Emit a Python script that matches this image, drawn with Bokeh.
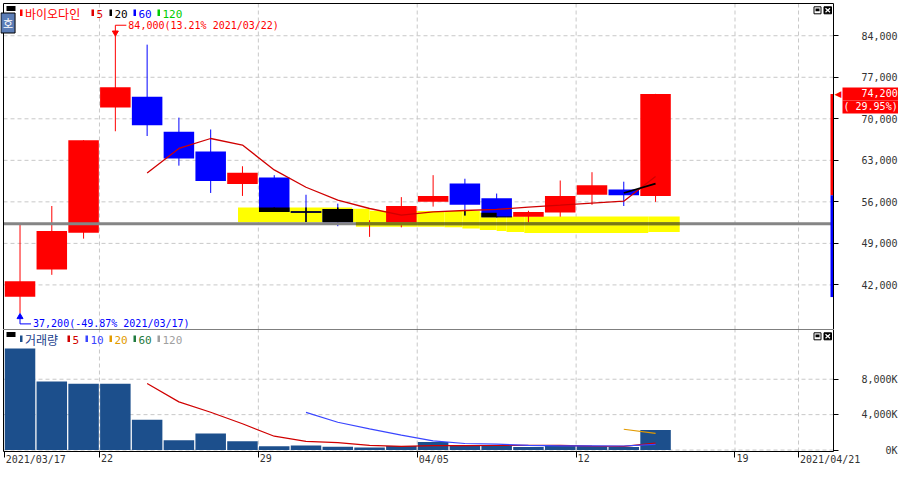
import numpy as np
from bokeh.plotting import figure
from bokeh.layouts import column
from bokeh.models import Range1d, FixedTicker, Label
from bokeh.core.properties import value
from bokeh.embed import file_html
from bokeh.resources import INLINE

# ---------------- data ----------------
stock_name = "바이오다인"
dates = ["2021/03/17", "2021/03/18", "2021/03/19", "2021/03/22", "2021/03/23", "2021/03/24",
         "2021/03/25", "2021/03/26", "2021/03/29", "2021/03/30", "2021/03/31", "2021/04/01",
         "2021/04/02", "2021/04/05", "2021/04/06", "2021/04/07", "2021/04/08", "2021/04/09",
         "2021/04/12", "2021/04/13", "2021/04/14"]
opens = [40000, 44600, 50800, 71900, 73700, 67800, 64500, 59000, 60100, 54300, 54800,
         52200, 52400, 56000, 59100, 56600, 53500, 54200, 57200, 58100, 57000]
highs = [52300, 55300, 66400, 84000, 82500, 70200, 68200, 62000, 60500, 57200, 55700,
         52900, 56800, 60500, 59900, 57400, 54500, 59600, 61000, 59400, 74200]
lows = [37200, 43700, 49800, 67900, 67100, 62100, 57500, 57000, 54300, 52600, 51900,
        50100, 51700, 55200, 53700, 53400, 52500, 53500, 55500, 55300, 56000]
closes = [42600, 51100, 66400, 75300, 68900, 63300, 59500, 60900, 54300, 54300, 52500,
          52400, 55300, 57000, 55500, 53400, 54300, 57000, 58800, 57100, 74200]
volumes_k = [11470, 7730, 7480, 7480, 3410, 1100, 1870, 990, 440, 500, 385,
             275, 460, 900, 460, 460, 350, 460, 460, 350, 2270]

# yellow band (step segments, x in trading-day slots, prices)
band_left = [6.86, 10.45, 10.57, 11.0, 12.5, 13.36, 13.92, 14.47, 15.0, 15.31, 15.87, 19.77]
band_right = [10.45, 10.57, 11.0, 12.5, 13.36, 13.92, 14.47, 15.0, 15.31, 15.87, 19.77, 20.76]
band_top = [55050, 54830, 54830, 54510, 54460, 54460, 54460, 54180, 53530, 53530, 53530, 53530]
band_bot = [52550, 52550, 51790, 51790, 51790, 51730, 51520, 51250, 51080, 50920, 50760, 50920]

gray_level = 52300          # horizontal gray line
prev_close = 57100          # previous day close
upper_limit = 74200
lower_limit = 39950

price_ticks = [42000, 49000, 56000, 63000, 70000, 77000, 84000]
price_tick_labels = ["42,000", "49,000", "56,000", "63,000", "70,000", "77,000", "84,000"]
vol_ticks = [0, 4000, 8000]
vol_tick_labels = ["0K", "4,000K", "8,000K"]
x_tick_slots = [0, 3, 8, 13, 18, 23, 25]
x_tick_labels = ["2021/03/17", "22", "29", "04/05", "12", "19", "2021/04/21"]

price_ma_periods = [5, 20, 60, 120]
price_ma_colors = ["#d00000", "#000000", "#0000ff", "#00cc00"]
vol_ma_periods = [5, 10, 20, 60, 120]
vol_ma_colors = ["#d00000", "#3a46ff", "#e39b00", "#1f7a3f", "#a0a0a0"]

# ---------------- layout constants ----------------
W = 898
ML, MT = 3, 3                 # visible box offset inside the canvas
FW = 830                      # visible box width
FH_P, FH_V, H_AX = 326, 122, 16
X0, X1 = -0.52, 25.6          # visible box, x (trading-day slots)
PY0, PY1 = 34485, 89435       # visible box, price
VY0, VY1 = -165, 13618        # visible box, volume (K)


def dx(px):
    return px * (X1 - X0) / FW


def dyp(px):
    return px * (PY1 - PY0) / FH_P


def dyv(px):
    return px * (VY1 - VY0) / FH_V


XS, XE = X0 - dx(ML), X1 + dx(W - ML - FW)

MONO = "DejaVu Sans Mono"
KR = "Noto Sans CJK KR"
RED, BLUE = "#ff0000", "#0000ff"
GRID = "#c8c8c8"
TXT = "#333333"

xr = Range1d(XS, XE)
n = len(closes)
idx = np.arange(n)
tick_x = [s - 0.5 for s in x_tick_slots]


def moving_average(vals, k):
    out = []
    for i in range(len(vals)):
        out.append(np.nan if i < k - 1 else float(np.mean(vals[i - k + 1:i + 1])))
    return np.array(out)


def base_fig(h, ylo, yhi, y0, y1, ticks, labels, xloc=None):
    f = figure(width=W, height=h, x_range=xr, y_range=Range1d(ylo, yhi),
               output_backend="svg", toolbar_location=None,
               x_axis_location=xloc, y_axis_location="right",
               min_border_left=0, min_border_right=0, min_border_top=0,
               min_border_bottom=0, background_fill_color="white",
               border_fill_color="white", outline_line_color=None)
    f.grid.visible = False
    ax = f.yaxis[0]
    ax.fixed_location = X1
    ax.ticker = FixedTicker(ticks=ticks)
    ax.major_label_overrides = dict(zip(ticks, labels))
    ax.minor_tick_line_color = None
    ax.major_tick_in = 0
    ax.major_tick_out = 5
    ax.major_tick_line_color = "black"
    ax.axis_line_color = None
    ax.major_label_standoff = 23
    ax.major_label_text_font = MONO
    ax.major_label_text_font_size = "10px"
    ax.major_label_text_color = TXT
    # dashed grid, limited to the visible box
    f.segment(x0=[X0] * len(ticks), x1=[X1] * len(ticks), y0=ticks, y1=ticks,
              line_color=GRID, line_dash="4 3", line_width=1)
    gx = tick_x[1:]
    f.segment(x0=gx, x1=gx, y0=[y0] * len(gx), y1=[y1] * len(gx),
              line_color=GRID, line_dash="4 3", line_width=1)
    return f


def box(f, y0, y1):
    f.quad(left=[X0], right=[X1], top=[y1], bottom=[y0], fill_color=None,
           line_color="black", line_width=1)


# ======================= price panel =======================
p = base_fig(MT + FH_P, PY0, PY1 + dyp(MT), PY0, PY1, price_ticks, price_tick_labels)

# yellow band
p.quad(left=band_left, right=band_right, top=band_top, bottom=band_bot,
       fill_color="#ffff00", line_color=None)

up = [c > o for o, c in zip(opens, closes)]
ccol = [RED if u else BLUE for u in up]
BW = 0.96

p.segment(x0=idx, y0=highs, x1=idx, y1=lows, line_color=ccol, line_width=1)
body_i = [i for i in range(n) if opens[i] != closes[i]]
p.vbar(x=body_i, width=BW,
       top=[max(opens[i], closes[i]) for i in body_i],
       bottom=[min(opens[i], closes[i]) for i in body_i],
       fill_color=[ccol[i] for i in body_i], line_color=None)
doji_i = [i for i in range(n) if opens[i] == closes[i]]
p.segment(x0=[i - BW / 2 for i in doji_i], x1=[i + BW / 2 for i in doji_i],
          y0=[closes[i] for i in doji_i], y1=[closes[i] for i in doji_i],
          line_color=[ccol[i] for i in doji_i], line_width=1.5)

# blue parts lying inside the yellow band turn black (band is multiplied)
bq = dict(left=[], right=[], top=[], bottom=[])
bs = dict(x0=[], x1=[], y0=[], y1=[])
for i in range(n):
    if up[i]:
        continue
    lo_b, hi_b = min(opens[i], closes[i]), max(opens[i], closes[i])
    for l, r, t, b in zip(band_left, band_right, band_top, band_bot):
        ol, orr = max(i - BW / 2, l), min(i + BW / 2, r)
        if orr <= ol:
            continue
        if hi_b > lo_b:
            tt, bb = min(hi_b, t), max(lo_b, b)
            if tt > bb:
                bq["left"].append(ol); bq["right"].append(orr)
                bq["top"].append(tt); bq["bottom"].append(bb)
        elif b <= lo_b <= t:
            bs["x0"].append(ol); bs["x1"].append(orr)
            bs["y0"].append(lo_b); bs["y1"].append(lo_b)
        if l <= i < r:
            tt, bb = min(highs[i], t), max(lows[i], b)
            if tt > bb:
                bs["x0"].append(i); bs["x1"].append(i)
                bs["y0"].append(tt); bs["y1"].append(bb)
p.quad(fill_color="black", line_color=None, **bq)
p.segment(line_color="black", line_width=1.5, **bs)

closes_arr = np.array(closes, dtype=float)
for k, col in zip(price_ma_periods, price_ma_colors):
    ma = moving_average(closes_arr, k)
    ok = ~np.isnan(ma)
    if ok.sum() >= 2:
        p.line(idx[ok], ma[ok], line_color=col, line_width=1.3 if k == 5 else 1.8)

# gray horizontal line, olive where it crosses the band
p.segment(x0=[X0], x1=[X1], y0=[gray_level], y1=[gray_level],
          line_color="#858585", line_width=3)
ol_x0 = [l for l, t, b in zip(band_left, band_top, band_bot) if b < gray_level < t]
ol_x1 = [r for r, t, b in zip(band_right, band_top, band_bot) if b < gray_level < t]
p.segment(x0=ol_x0, x1=ol_x1, y0=[gray_level] * len(ol_x0), y1=[gray_level] * len(ol_x0),
          line_color="#7a7a12", line_width=3)

# price-limit bar at the right edge
p.quad(left=[X1 - dx(3)] * 2, right=[X1] * 2, top=[upper_limit, prev_close],
       bottom=[prev_close, lower_limit], fill_color=[RED, BLUE], line_color=None)

# highest / lowest annotations
last = closes[-1]
hi_i = int(np.argmax(highs)); hi_v = highs[hi_i]
lo_i = int(np.argmin(lows)); lo_v = lows[lo_i]
hi_txt = f"{hi_v:,}({(hi_v / last - 1) * 100:.2f}% {dates[hi_i]})"
lo_txt = f"{lo_v:,}({(lo_v / last - 1) * 100:.2f}% {dates[lo_i]})"

p.segment(x0=[hi_i, hi_i], y0=[hi_v + dyp(2), hi_v + dyp(10.5)],
          x1=[hi_i, hi_i + dx(11)], y1=[hi_v + dyp(10.5), hi_v + dyp(10.5)],
          line_color=RED, line_width=1)
p.scatter(x=[hi_i], y=[hi_v + dyp(3)], marker="inverted_triangle", size=6,
          fill_color=RED, line_color=RED)
p.text(x=[hi_i], y=[hi_v + dyp(10.5)], text=[hi_txt], x_offset=13,
       text_baseline="middle", text_align="left", text_color=RED,
       text_font=value(MONO), text_font_size="10px")

p.segment(x0=[lo_i, lo_i], y0=[lo_v - dyp(2), lo_v - dyp(10.5)],
          x1=[lo_i, lo_i + dx(11)], y1=[lo_v - dyp(10.5), lo_v - dyp(10.5)],
          line_color=BLUE, line_width=1)
p.scatter(x=[lo_i], y=[lo_v - dyp(3.5)], marker="triangle", size=6,
          fill_color=BLUE, line_color=BLUE)
p.text(x=[lo_i], y=[lo_v - dyp(10.5)], text=[lo_txt], x_offset=13,
       text_baseline="middle", text_align="left", text_color=BLUE,
       text_font=value(MONO), text_font_size="10px")


def legend(fig, ytop, dyf, items, name, name_color, name_marker):
    fig.quad(left=[X0 + dx(3)], right=[X0 + dx(12)], top=[ytop - dyf(2.5)],
             bottom=[ytop - dyf(7.5)], fill_color="black", line_color=None)
    fig.quad(left=[X0 + dx(16.5)], right=[X0 + dx(19)], top=[ytop - dyf(6)],
             bottom=[ytop - dyf(12.5)], fill_color=name_marker, line_color=None)
    fig.text(x=[X0 + dx(21.5)], y=[ytop - dyf(10)], text=[name],
             text_color=name_color, text_font=value(KR), text_font_size="12px",
             text_baseline="middle", text_align="left")
    for (xm, txt, col) in items:
        fig.quad(left=[X0 + dx(xm)], right=[X0 + dx(xm + 2.5)], top=[ytop - dyf(6)],
                 bottom=[ytop - dyf(12.5)], fill_color=col, line_color=None)
        fig.text(x=[X0 + dx(xm + 5)], y=[ytop - dyf(10)], text=[txt],
                 text_color=col, text_font=value(MONO), text_font_size="11px",
                 text_baseline="middle", text_align="left")
    fig.quad(left=[X1 - dx(19.5)], right=[X1 - dx(12.5)], top=[ytop - dyf(3.3)],
             bottom=[ytop - dyf(10.3)], fill_color="white", line_color="black")
    fig.quad(left=[X1 - dx(18)], right=[X1 - dx(14)], top=[ytop - dyf(5)],
             bottom=[ytop - dyf(7.8)], fill_color="black", line_color=None)
    fig.quad(left=[X1 - dx(9.5)], right=[X1 - dx(2)], top=[ytop - dyf(3.3)],
             bottom=[ytop - dyf(10.3)], fill_color="black", line_color="black")
    fig.segment(x0=[X1 - dx(8), X1 - dx(8)], x1=[X1 - dx(3.5), X1 - dx(3.5)],
                y0=[ytop - dyf(4.8), ytop - dyf(8.8)], y1=[ytop - dyf(8.8), ytop - dyf(4.8)],
                line_color="white", line_width=1.2)


p_items = [(88, str(price_ma_periods[0]), "#e00000"), (106, str(price_ma_periods[1]), "#000000"),
           (130, str(price_ma_periods[2]), "#0000ff"), (154, str(price_ma_periods[3]), "#00cc00")]
legend(p, PY1, dyp, p_items, stock_name, RED, RED)
box(p, PY0, PY1)

# "호" badge
p.add_layout(Label(x=X0 + dx(4.5), y=PY1 - dyp(19.5), text="호",
                   text_color="white", text_font=KR, text_font_size="11px",
                   text_align="center", text_baseline="middle",
                   background_fill_color="#5b7db6", border_line_color="black", padding=2))

# current price box, right of the visible box
pct = (last / prev_close - 1) * 100
line1 = f"{last:,}".rjust(9).replace(" ", "\u00a0")
line2 = f"( {pct:.2f}%)".replace(" ", "\u00a0")
p.add_layout(Label(x=X1, y=last, x_offset=1, text="\u25c0", text_color=RED,
                   text_font="DejaVu Sans", text_font_size="9px",
                   text_baseline="middle", text_align="left"))
p.add_layout(Label(x=X1, y=last, x_offset=9, text=line1, text_color="white",
                   text_font=MONO, text_font_size="10px", text_baseline="middle",
                   text_align="left", background_fill_color=RED, padding=1))
p.add_layout(Label(x=X1, y=last - dyp(13), x_offset=9, text=line2, text_color="white",
                   text_font=MONO, text_font_size="10px", text_baseline="middle",
                   text_align="left", background_fill_color=RED, padding=1))

# ======================= volume panel (with the date axis) =======================
v = base_fig(FH_V + H_AX, VY0 - dyv(H_AX), VY1, VY0, VY1, vol_ticks,
             [lab.rjust(6).replace(" ", "\u00a0") for lab in vol_tick_labels], "below")
xa = v.xaxis[0]
xa.fixed_location = VY0
xa.ticker = FixedTicker(ticks=tick_x)
xa.minor_tick_line_color = None
xa.major_tick_in = 0
xa.major_tick_out = 6
xa.major_tick_line_color = "black"
xa.axis_line_color = None
xa.major_label_text_color = None
v.text(x=tick_x, y=[VY0] * len(tick_x), text=x_tick_labels, x_offset=1.5, y_offset=2.5,
       text_baseline="top", text_align="left", text_color=TXT,
       text_font=value(MONO), text_font_size="10px")

v.vbar(x=idx, top=volumes_k, bottom=0, width=BW, fill_color="#1c4f8c", line_color=None)
vol_arr = np.array(volumes_k, dtype=float)
for k, col in zip(vol_ma_periods, vol_ma_colors):
    ma = moving_average(vol_arr, k)
    ok = ~np.isnan(ma)
    if ok.sum() >= 2:
        v.line(idx[ok], ma[ok], line_color=col, line_width=1.2)

v_items = [(64, str(vol_ma_periods[0]), vol_ma_colors[0]), (82, str(vol_ma_periods[1]), vol_ma_colors[1]),
           (106, str(vol_ma_periods[2]), vol_ma_colors[2]), (130, str(vol_ma_periods[3]), vol_ma_colors[3]),
           (154, str(vol_ma_periods[4]), vol_ma_colors[4])]
legend(v, VY1, dyv, v_items, "거래량", "#1c3f8c", "#1c4f8c")
box(v, VY0, VY1)

layout = column(p, v, spacing=0)
open("out.html", "w").write(file_html(layout, INLINE))
